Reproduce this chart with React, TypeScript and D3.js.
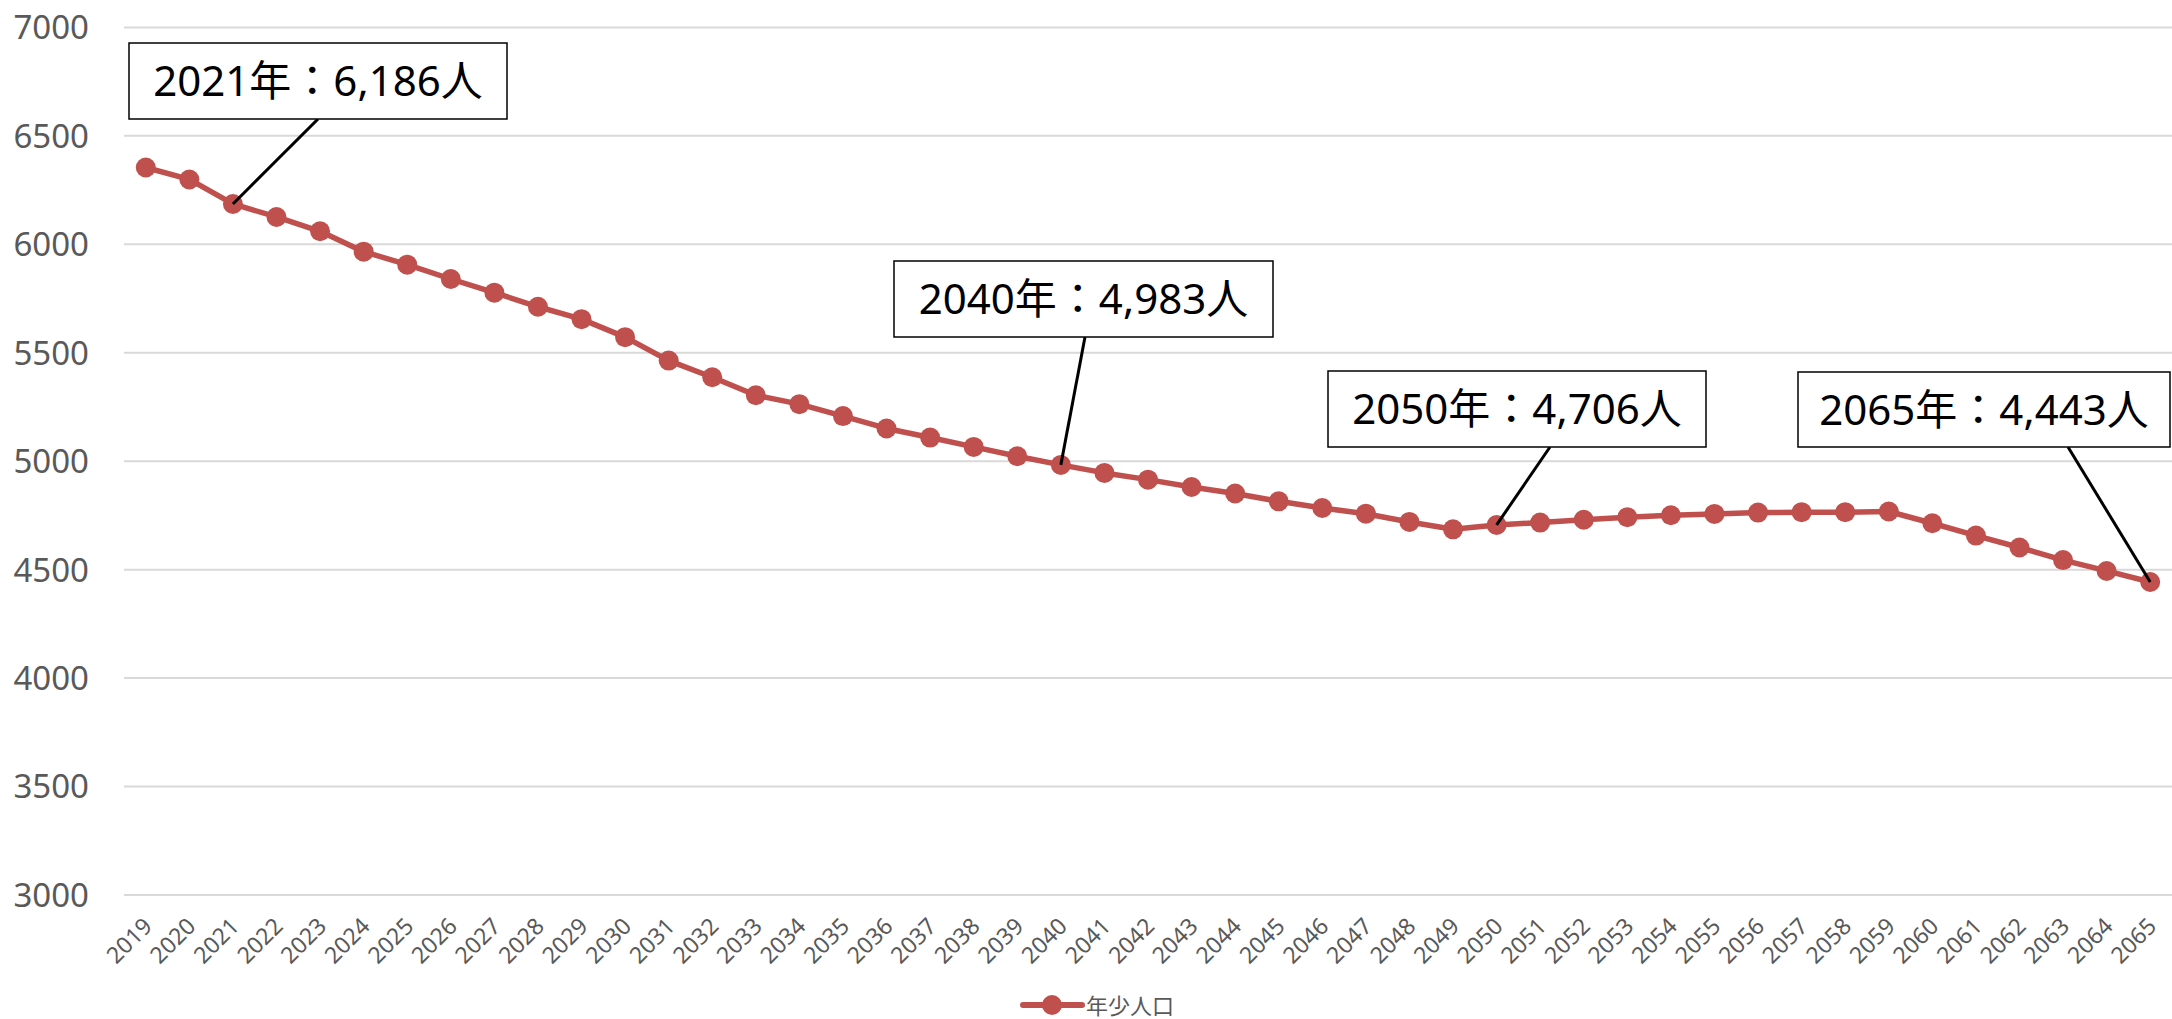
import React from "react";
import * as d3 from "d3";

const years: string[] = [
  "2019","2020","2021","2022","2023","2024","2025","2026","2027","2028",
  "2029","2030","2031","2032","2033","2034","2035","2036","2037","2038",
  "2039","2040","2041","2042","2043","2044","2045","2046","2047","2048",
  "2049","2050","2051","2052","2053","2054","2055","2056","2057","2058",
  "2059","2060","2061","2062","2063","2064","2065",
];

const youthPopulation: number[] = [
  6354, 6299, 6186, 6126, 6060, 5966, 5906, 5840, 5777, 5712,
  5655, 5572, 5464, 5387, 5304, 5263, 5208, 5151, 5109, 5066,
  5023, 4983, 4946, 4915, 4881, 4851, 4815, 4784, 4758, 4720,
  4686, 4706, 4717, 4730, 4742, 4751, 4757, 4763, 4765, 4765,
  4768, 4714, 4657, 4602, 4544, 4494, 4443,
];

const yTicks: number[] = [3000, 3500, 4000, 4500, 5000, 5500, 6000, 6500, 7000];
const seriesName = "年少人口";
const calloutYears: string[] = ["2021", "2040", "2050", "2065"];

// layout
const W = 2172;
const H = 1019;
const plotLeft = 124;
const plotRight = 2172;
const plotTop = 27.4;
const plotBottom = 895;
const RED = "#C0504D";
const AXIS_TEXT = "#595959";
const FONT = "'Noto Sans', 'Noto Sans CJK JP', sans-serif";

// callout boxes: [x, y, w, h, leaderX, leaderY]
const calloutBoxes: number[][] = [
  [129, 43, 378, 76, 318, 119],
  [894, 261, 379, 76, 1085, 337],
  [1328, 371, 378, 76, 1550, 447],
  [1798, 372, 372, 75, 2068, 447],
];

export default function App() {
  const x = d3.scaleBand<string>().domain(years).range([plotLeft, plotRight]).padding(0);
  const cx = (yr: string) => (x(yr) as number) + x.bandwidth() / 2;
  const y = d3.scaleLinear().domain([3000, 7000]).range([plotBottom, plotTop]);
  const data = years.map((yr, i) => ({ yr, v: youthPopulation[i] }));
  const line = d3
    .line<{ yr: string; v: number }>()
    .x((d) => cx(d.yr))
    .y((d) => y(d.v));

  return (
    <svg
      width={W}
      height={H}
      style={{ position: "absolute", left: 0, top: 0, background: "#fff" }}
      fontFamily={FONT}
    >
      <rect x={0} y={0} width={W} height={H} fill="#fff" />
      {/* gridlines */}
      {yTicks.map((t) => (
        <line
          key={t}
          x1={plotLeft}
          x2={plotRight}
          y1={y(t)}
          y2={y(t)}
          stroke="#D9D9D9"
          strokeWidth={2}
        />
      ))}
      {/* y labels */}
      {yTicks.map((t) => (
        <text
          key={"yl" + t}
          x={89}
          y={y(t)}
          dy="0.36em"
          textAnchor="end"
          fontSize={33}
          fill={AXIS_TEXT}
        >
          {t}
        </text>
      ))}
      {/* x labels */}
      {years.map((yr) => (
        <text
          key={"xl" + yr}
          transform={`translate(${cx(yr) + 2},${922}) rotate(-45)`}
          textAnchor="end"
          dy="0.35em"
          fontSize={23}
          fill={AXIS_TEXT}
        >
          {yr}
        </text>
      ))}
      {/* series line */}
      <path d={line(data) || ""} fill="none" stroke={RED} strokeWidth={5.5} strokeLinejoin="round" />
      {data.map((d) => (
        <circle key={"m" + d.yr} cx={cx(d.yr)} cy={y(d.v)} r={10} fill={RED} />
      ))}
      {/* callouts */}
      {calloutYears.map((yr, i) => {
        const idx = years.indexOf(yr);
        const v = youthPopulation[idx];
        const [bx, by, bw, bh, lx, ly] = calloutBoxes[i];
        const label = `${yr}年：${d3.format(",")(v)}人`;
        return (
          <g key={"c" + yr}>
            <line x1={lx} y1={ly} x2={cx(yr)} y2={y(v)} stroke="#000" strokeWidth={3} />
            <rect x={bx} y={by} width={bw} height={bh} fill="#fff" stroke="#000" strokeWidth={1.5} />
            <text
              x={bx + bw / 2}
              y={by + bh / 2}
              dy="0.36em"
              textAnchor="middle"
              fontSize={42}
              fill="#000"
            >
              {label}
            </text>
          </g>
        );
      })}
      {/* legend */}
      <line x1={1023} x2={1082} y1={1005} y2={1005} stroke={RED} strokeWidth={6} strokeLinecap="round" />
      <circle cx={1052} cy={1005} r={10} fill={RED} />
      <text x={1086} y={1004} dominantBaseline="central" fontSize={22} fill={AXIS_TEXT} fontFamily="'Noto Sans CJK JP', sans-serif">
        {seriesName}
      </text>
    </svg>
  );
}
